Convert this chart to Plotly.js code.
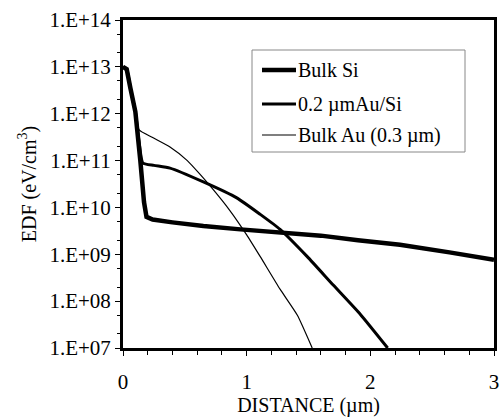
<!DOCTYPE html>
<html>
<head>
<meta charset="utf-8">
<script src="https://cdn.plot.ly/plotly-3.0.1.min.js"></script>
<style>html,body{margin:0;padding:0;background:#fff;}#chart{width:500px;height:417px;}</style>
</head>
<body>
<div id="chart"></div>
<script>
// Distance (µm) and EDF (eV/cm^3)
const bulkSiX = [0, 0.03, 0.06, 0.1, 0.14, 0.17, 0.19, 0.24, 0.4, 0.65, 0.95, 1.27, 1.6, 1.9, 2.24, 2.64, 3.0];
const bulkSiY = [1.0e13, 8.9e12, 3.5e12, 1.1e12, 1.0e11, 1.3e10, 6.3e9, 5.5e9, 4.8e9, 4.0e9, 3.4e9, 3.0e9, 2.5e9, 2.0e9, 1.6e9, 1.1e9, 7.6e8];

const auSiX = [0, 0.03, 0.06, 0.1, 0.13, 0.16, 0.25, 0.38, 0.65, 0.92, 1.11, 1.27, 1.49, 1.70, 1.92, 2.14];
const auSiY = [1.0e13, 8.9e12, 3.5e12, 1.1e12, 2.5e11, 8.9e10, 7.9e10, 6.9e10, 3.5e10, 1.6e10, 7.1e9, 3.4e9, 8.9e8, 2.2e8, 5.2e7, 1.0e7];

const bulkAuX = [0, 0.03, 0.06, 0.1, 0.13, 0.24, 0.38, 0.52, 0.62, 0.73, 0.86, 1.0, 1.11, 1.27, 1.41, 1.53];
const bulkAuY = [1.0e13, 8.9e12, 3.5e12, 1.1e12, 4.5e11, 3.1e11, 1.95e11, 1.0e11, 5.2e10, 2.4e10, 8.9e9, 2.6e9, 8.9e8, 1.8e8, 5.0e7, 1.0e7];

const seriesNames = ["Bulk Si", "0.2 \u00b5mAu/Si", "Bulk Au (0.3 \u00b5m)"];
const yTickVals = [1e7, 1e8, 1e9, 1e10, 1e11, 1e12, 1e13, 1e14];
const yTickText = ["1.E+07", "1.E+08", "1.E+09", "1.E+10", "1.E+11", "1.E+12", "1.E+13", "1.E+14"];
const xTickVals = [0, 1, 2, 3];

const font = "Liberation Serif";
const widths = [4.5, 3, 1.2];

const traces = [
  {x: bulkSiX, y: bulkSiY, name: seriesNames[0], shape: "linear"},
  {x: auSiX, y: auSiY, name: seriesNames[1], shape: "spline"},
  {x: bulkAuX, y: bulkAuY, name: seriesNames[2], shape: "spline"}
].map((t, i) => ({
  x: t.x, y: t.y, name: t.name,
  type: "scatter", mode: "lines", showlegend: false,
  line: {color: "#000", width: widths[i], shape: t.shape, smoothing: 0.5}
}));

// manual legend (pixel helpers -> paper coords)
const L = 123, T = 20, W = 371, H = 328;
const px = v => (v - L) / W;
const py = v => (T + H - v) / H;
const rows = [70, 104, 135];
const shapes = [{
  type: "rect", xref: "paper", yref: "paper",
  x0: px(252), x1: px(465), y0: py(152), y1: py(50),
  line: {color: "#888", width: 1}, fillcolor: "rgba(0,0,0,0)"
}];
const annotations = [];
rows.forEach((r, i) => {
  shapes.push({type: "line", xref: "paper", yref: "paper",
    x0: px(262), x1: px(296), y0: py(r), y1: py(r),
    line: {color: "#000", width: widths[i]}});
  annotations.push({xref: "paper", yref: "paper", x: px(296), y: py(r),
    xanchor: "left", yanchor: "middle", showarrow: false,
    text: seriesNames[i], font: {family: font, size: 20, color: "#000"}});
});

const layout = {
  width: 500, height: 417,
  margin: {l: L, r: 500 - L - W, t: T, b: 417 - T - H},
  paper_bgcolor: "#fff", plot_bgcolor: "#fff",
  font: {family: font, size: 20, color: "#000"},
  showlegend: false,
  xaxis: {
    range: [0, 3], tickvals: xTickVals, ticktext: xTickVals.map(String),
    ticks: "outside", ticklen: 5, tickwidth: 1, tickcolor: "#000",
    ticklabelstandoff: 8,
    minor: {dtick: 0.2, ticks: "outside", ticklen: 4, tickcolor: "#000"},
    showline: true, mirror: true, linewidth: 3, linecolor: "#000",
    showgrid: false, zeroline: false,
    tickfont: {family: font, size: 21},
    title: {text: "DISTANCE (\u00b5m)", font: {family: font, size: 20}, standoff: 10}
  },
  yaxis: {
    type: "log", range: [7, 14], tickvals: yTickVals, ticktext: yTickText,
    ticks: "outside", ticklen: 5, tickwidth: 1, tickcolor: "#000",
    minor: {ticks: "outside", ticklen: 3, tickcolor: "#000", showgrid: false},
    showline: true, mirror: true, linewidth: 3, linecolor: "#000",
    showgrid: false, zeroline: false,
    tickfont: {family: font, size: 21},
    title: {text: "EDF (eV/cm<sup>3</sup>)", font: {family: font, size: 20}, standoff: 8}
  },
  shapes: shapes,
  annotations: annotations
};

Plotly.newPlot("chart", traces, layout, {displayModeBar: false, staticPlot: true});
</script>
</body>
</html>
